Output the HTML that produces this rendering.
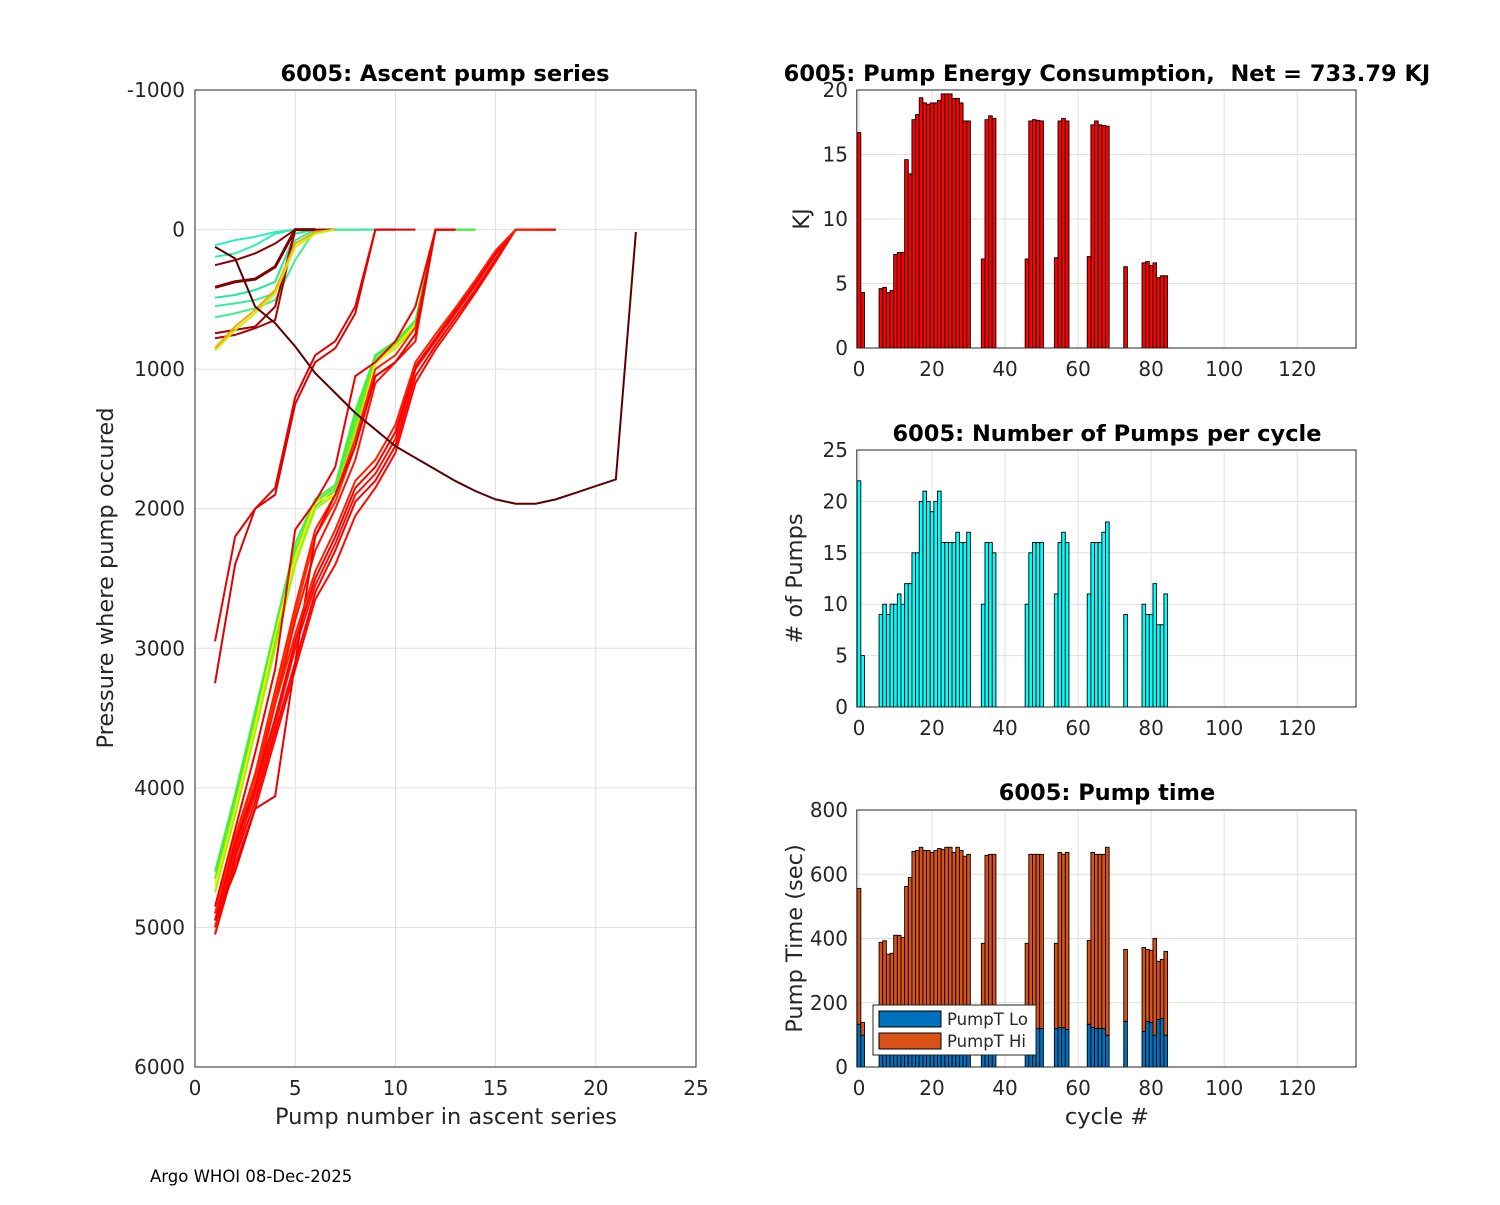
<!DOCTYPE html>
<html><head><meta charset="utf-8"><style>
body{margin:0;background:#fff;width:1500px;height:1200px;overflow:hidden;font-family:"Liberation Sans","DejaVu Sans",sans-serif}
svg text{font-family:"DejaVu Sans","Liberation Sans",sans-serif;white-space:pre}
</style></head><body>
<svg id="fig" width="1500" height="1200" xmlns="http://www.w3.org/2000/svg"></svg>
<script>
// ---------- data ----------
const energyCycles=[0,1,6,7,8,9,10,11,12,13,14,15,16,17,18,19,20,21,22,23,24,25,26,27,28,29,30,34,35,36,37,46,47,48,49,50,54,55,56,57,63,64,65,66,67,68,73,78,79,80,81,82,83,84];
const energyKJ=[16.7,4.3,4.6,4.7,4.3,4.45,7.25,7.4,7.4,14.6,13.5,17.7,18.1,19.4,19.0,18.9,19.0,19.0,19.2,19.7,19.7,19.7,19.35,19.35,19.0,17.6,17.6,6.9,17.7,18.0,17.8,6.9,17.6,17.7,17.65,17.6,7.0,17.6,17.8,17.6,7.1,17.3,17.6,17.3,17.25,17.2,6.3,6.6,6.7,6.4,6.6,5.45,5.6,5.6];
const pumpCounts=[22,5,9,10,9,10,10,11,10,12,12,15,15,20,21,20,19,20,21,16,16,16,16,17,16,16,17,10,16,16,15,10,15,16,16,16,11,16,17,16,11,16,16,16,17,18,9,10,9,9,12,8,8,11];
const pumpTotal=[556,139,388,393,351,354,410,410,403,562,590,671,674,684,674,674,668,674,680,677,684,684,668,684,674,656,662,385,659,662,662,385,662,662,662,662,385,668,662,668,394,668,662,662,662,684,366,372,366,363,400,329,335,360];
const pumpLo=[133,99,110,110,110,110,110,110,110,110,110,110,110,110,110,110,110,110,110,110,110,110,110,110,110,110,110,110,110,110,110,120,120,120,120,120,120,123,123,117,133,123,120,120,120,99,142,111,142,139,99,148,151,99];
const energyTicks=[0,5,10,15,20];
const countTicks=[0,5,10,15,20,25];
const timeTicks=[0,200,400,600,800];
const cycleTicks=[0,20,40,60,80,100,120];
const pumpXTicks=[0,5,10,15,20,25];
const presTicks=[-1000,0,1000,2000,3000,4000,5000,6000];
// ascent series: pressures at pump 1..n
const ascentSeries=[
 {c:"#20f0c0",p:[112,76,52,17,0,0,0,0,0]},
 {c:"#30f0b0",p:[195,171,112,29,0,0,0,0]},
 {c:"#20e8a0",p:[488,469,433,374,29,0,0,0]},
 {c:"#30f098",p:[548,529,505,457,76,0,0,0,0,0]},
 {c:"#40f090",p:[629,600,564,505,219,0,0,0]},
 {c:"#8b0000",p:[255,219,171,100,0,0,0]},
 {c:"#a00000",p:[743,719,695,552,0,0]},
 {c:"#b00000",p:[779,755,707,648,0,0]},
 {c:"#800000",p:[414,374,355,267,0,0],w:3},
 {c:"#ffa000",p:[850,695,576,433,100,17,0]},
 {c:"#c8f000",p:[867,719,600,457,124,29,0]},
 {c:"#e00000",p:[3250,2400,2000,1900,1250,950,850,600,0,0,0]},
 {c:"#e80000",p:[2950,2200,2000,1850,1200,900,800,550,0,0]},
 {c:"#50f030",p:[4650,4100,3500,2900,2300,1950,1850,1350,910,810,690,0,0,0]},
 {c:"#60f020",p:[4700,4150,3550,2950,2350,1980,1870,1400,930,830,660,0,0,0]},
 {c:"#a0f000",p:[4750,4200,3600,3000,2400,2000,1900,1450,950,850,700,0,0]},
 {c:"#f0f000",p:[4700,4150,3550,2900,2350,1950,1900,1500,960,840,680,0,0]},
 {c:"#40f040",p:[4600,4050,3450,2850,2250,1930,1830,1300,900,800,650,0,0,0]},
 {c:"#ff2000",p:[4900,4400,3900,3300,2700,2150,1900,1500,1000,900,700,0,0]},
 {c:"#ff3000",p:[4950,4450,3950,3350,2750,2200,1950,1550,1050,950,750,0,0]},
 {c:"#f00000",p:[4850,4300,3750,3150,2150,1950,1700,1050,950,800,550,0,0]},
 {c:"#ff1000",p:[5000,4500,4000,3400,2800,2300,2000,1650,1100,950,800,0,0]},
 {c:"#ff0000",p:[5050,4500,4100,3600,3100,2600,2300,1950,1800,1550,1050,830,630,430,210,0,0,0]},
 {c:"#ff1000",p:[5000,4450,4050,3550,3000,2550,2250,1900,1750,1500,1000,800,600,400,180,0,0,0]},
 {c:"#f80000",p:[4950,4400,4000,3500,2950,2500,2200,1850,1700,1450,980,780,580,380,170,0,0,0]},
 {c:"#ff0800",p:[5050,4550,4150,3650,3150,2650,2400,2050,1850,1600,1100,860,660,450,230,0,0,0]},
 {c:"#ee0000",p:[4950,4600,4150,4060,3100,2200,1900,1550,1050,950,750,0,0]},
 {c:"#ff2000",p:[4900,4350,3900,3400,2900,2450,2150,1800,1650,1400,950,750,560,360,150,0,0]}
];
const longCurve=[124,207,552,671,838,1029,1171,1314,1433,1552,1636,1719,1802,1874,1933,1964,1964,1933,1886,1838,1790,17];
// ---------- helpers ----------
const NS="http://www.w3.org/2000/svg",svg=document.getElementById('fig');
function el(t,a,parent){const e=document.createElementNS(NS,t);for(const k in a)e.setAttribute(k,a[k]);(parent||svg).appendChild(e);return e;}
function txt(s,x,y,sz,anchor,weight,parent){const t=el('text',{x:x,y:y,'font-size':sz,'text-anchor':anchor||'middle','font-weight':weight||'normal',fill:weight?'#000':'#262626'},parent);t.textContent=s;return t;}
// ---------- left chart ----------
const L={x0:195,x1:696,y0:90,y1:1067};
const lx=v=>L.x0+(v/25)*(L.x1-L.x0);
const ly=v=>L.y0+((v+1000)/7000)*(L.y1-L.y0);
const gL=el('g',{});


for(const t of pumpXTicks){el('line',{x1:lx(t),x2:lx(t),y1:L.y0,y2:L.y1,stroke:'#dfdfdf','stroke-width':1},gL);}
for(const t of presTicks){el('line',{x1:L.x0,x2:L.x1,y1:ly(t),y2:ly(t),stroke:'#dfdfdf','stroke-width':1},gL);}
ascentSeries.forEach((s,i)=>{
 const pts=s.p.map((v,j)=>lx(j+1)+','+ly(v)).join(' ');
 const pl=el('polyline',{points:pts,fill:'none',stroke:s.c,'stroke-width':s.w||2},gL);
 
 
});
const lc=el('polyline',{points:longCurve.map((v,j)=>lx(j+1)+','+ly(v)).join(' '),fill:'none',stroke:'#5a0000','stroke-width':2},gL);


el('rect',{x:L.x0,y:L.y0,width:L.x1-L.x0,height:L.y1-L.y0,fill:'none',stroke:'#262626','stroke-width':1},gL);
for(const t of pumpXTicks){txt(t,lx(t),1095,20,'middle',null,gL);}
for(const t of presTicks){txt(t,185,ly(t)+7,20,'end',null,gL);}
const tL=txt('6005: Ascent pump series',445,81,22.5,'middle','bold',gL);

const xlL=txt('Pump number in ascent series',446,1124,22.5,'middle',null,gL);

const ylL=txt('Pressure where pump occured',0,0,22.5,'middle',null,gL);
ylL.setAttribute('transform','translate(113,578) rotate(-90)');

// ---------- right charts ----------
const RX0=856.8,RX1=1356,XMIN=-0.6,XMAX=136.1;
const rx=v=>RX0+(v-XMIN)/(XMAX-XMIN)*(RX1-RX0);
function panel(name,y0,y1,ymax,ticks,title,ylab,titleY){
 const g=el('g',{});
 
 
 const ry=v=>y1-(v/ymax)*(y1-y0);
 for(const t of cycleTicks)el('line',{x1:rx(t),x2:rx(t),y1:y0,y2:y1,stroke:'#dfdfdf'},g);
 for(const t of ticks)el('line',{x1:RX0,x2:RX1,y1:ry(t),y2:ry(t),stroke:'#dfdfdf'},g);
 for(const t of cycleTicks)txt(t,rx(t),y1+28,20,'middle',null,g);
 for(const t of ticks)txt(t,848,ry(t)+7,20,'end',null,g);
 const tt=txt(title,1107,titleY,22.5,'middle','bold',g);
 
 const yl=txt(ylab,0,0,22.5,'middle',null,g);
 yl.setAttribute('transform','translate('+(ylab==='KJ'?809:802)+','+((y0+y1)/2)+') rotate(-90)');
 
 return {g,ry,y0,y1};
}
function bar(g,c,v0,v1,ry,color,nm){
 const r=el('rect',{x:rx(c-0.5),y:ry(v1),width:rx(c+0.5)-rx(c-0.5),height:ry(v0)-ry(v1),fill:color,stroke:'#000','stroke-width':0.9},g);
 
 
}
const P1=panel('energy-chart',90,348,20,energyTicks,'6005: Pump Energy Consumption,  Net = 733.79 KJ','KJ',81);
energyCycles.forEach((c,i)=>bar(P1.g,c,0,energyKJ[i],P1.ry,'#ff0000','energy-bar-'+c));
el('rect',{x:RX0,y:90,width:RX1-RX0,height:258,fill:'none',stroke:'#262626'},P1.g);
const P2=panel('pump-count-chart',450,707,25,countTicks,'6005: Number of Pumps per cycle','# of Pumps',441);
energyCycles.forEach((c,i)=>bar(P2.g,c,0,pumpCounts[i],P2.ry,'#00ffff','count-bar-'+c));
el('rect',{x:RX0,y:450,width:RX1-RX0,height:257,fill:'none',stroke:'#262626'},P2.g);
const P3=panel('pump-time-chart',810,1067,800,timeTicks,'6005: Pump time','Pump Time (sec)',800);
energyCycles.forEach((c,i)=>{bar(P3.g,c,0,pumpLo[i],P3.ry,'#0072bd','pumpt-lo-bar-'+c);bar(P3.g,c,pumpLo[i],pumpTotal[i],P3.ry,'#d95319','pumpt-hi-bar-'+c);});
el('rect',{x:RX0,y:810,width:RX1-RX0,height:257,fill:'none',stroke:'#262626'},P3.g);
const xl3=txt('cycle #',1107,1124,22.5,'middle',null,P3.g);

// legend
const lg=el('g',{});


el('rect',{x:873,y:1005,width:163,height:50,fill:'#fff',stroke:'#262626'},lg);
el('rect',{x:879,y:1011,width:62,height:16,fill:'#0072bd',stroke:'#000'},lg);
el('rect',{x:879,y:1033,width:62,height:16,fill:'#d95319',stroke:'#000'},lg);
const le1=txt('PumpT Lo',947,1025,16.5,'start',null,lg);

const le2=txt('PumpT Hi',947,1047,16.5,'start',null,lg);

const ft=txt('Argo WHOI 08-Dec-2025',150,1182,16.5,'start');
ft.setAttribute('fill','#000');

</script>
</body></html>
